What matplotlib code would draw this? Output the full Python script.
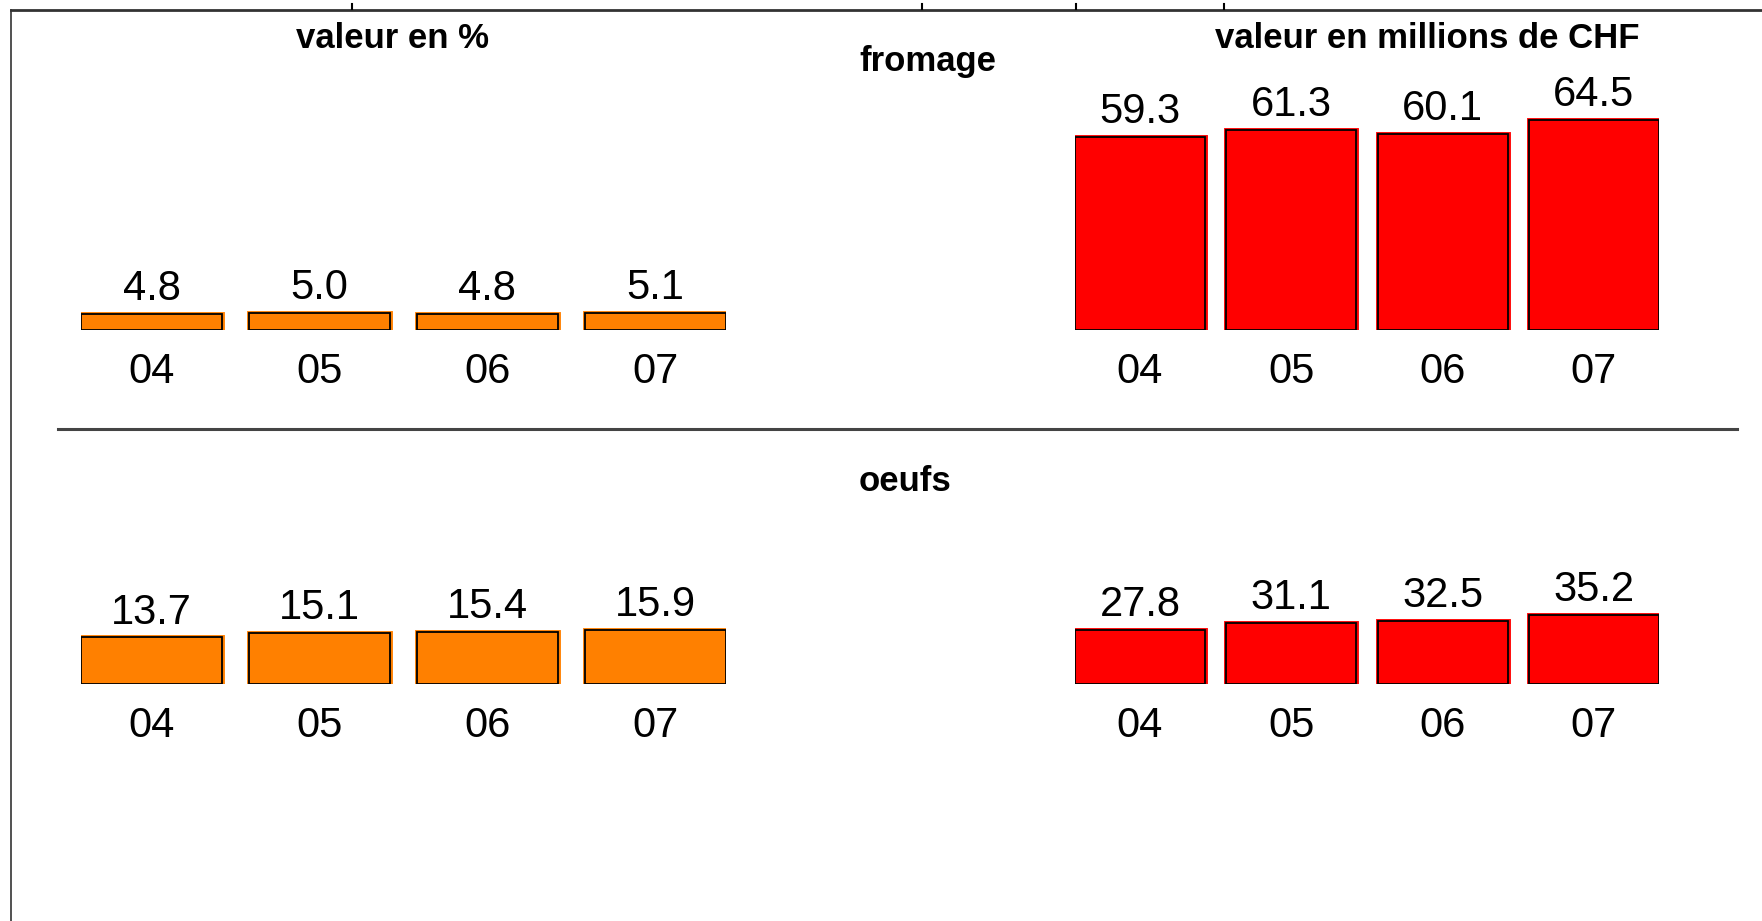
import matplotlib
matplotlib.use('Agg')
import matplotlib.pyplot as plt
from matplotlib.lines import Line2D

# Donnees
annees = ['04', '05', '06', '07']
fromage_pct = [4.8, 5.0, 4.8, 5.1]
fromage_chf = [59.3, 61.3, 60.1, 64.5]
oeufs_pct = [13.7, 15.1, 15.4, 15.9]
oeufs_chf = [27.8, 31.1, 32.5, 35.2]

W, H = 1762, 921
plt.rcParams['font.family'] = ['Liberation Sans', 'DejaVu Sans']

fig = plt.figure(figsize=(W / 100, H / 100), dpi=100)
fig.patch.set_facecolor('white')


def fx(px):
    return px / W


def fy(py):
    return 1 - py / H


def panneau(left, right, bottom, top, valeurs, couleur, px_par_unite, largeur):
    ax = fig.add_axes([fx(left), fy(bottom), fx(right) - fx(left), (bottom - top) / H])
    x = range(len(valeurs))
    # halo de couleur puis contour noir
    ax.bar(x, valeurs, width=largeur, color=couleur, edgecolor=couleur, linewidth=3.5)
    ax.bar(x, valeurs, width=largeur, color=couleur, edgecolor='black', linewidth=1.3)
    for i, v in enumerate(valeurs):
        ax.annotate(f'{v:.1f}', (i, v), xytext=(0, 10), textcoords='offset points',
                    ha='center', va='baseline', fontsize=30, color='black')
    ax.set_xlim(-largeur / 2, len(valeurs) - 1 + largeur / 2)
    ax.set_ylim(0, (bottom - top) / px_par_unite)
    ax.set_xticks(list(x))
    ax.set_xticklabels(annees, fontsize=30)
    ax.tick_params(axis='x', length=0, pad=15.5)
    ax.set_yticks([])
    ax.set_frame_on(False)
    return ax


panneau(81, 726, 330, 80, fromage_pct, '#FF8000', 3.4, 0.843)
panneau(1075, 1659, 330, 80, fromage_chf, '#FF0000', 3.26, 0.86)
panneau(81, 726, 684, 470, oeufs_pct, '#FF8000', 3.4, 0.843)
panneau(1075, 1659, 684, 470, oeufs_chf, '#FF0000', 1.95, 0.86)

# Titres
fig.text(fx(393), fy(38), 'valeur en %', ha='center', va='center', fontsize=25, fontweight='bold')
fig.text(fx(1427), fy(38), 'valeur en millions de CHF', ha='center', va='center', fontsize=25, fontweight='bold')
fig.text(fx(928), fy(62), 'fromage', ha='center', va='center', fontsize=25, fontweight='bold')
fig.text(fx(905), fy(481), 'oeufs', ha='center', va='center', fontsize=25, fontweight='bold')

# Cadre et separateur
fig.add_artist(Line2D([fx(11), 1], [fy(10), fy(10)], color='#333333', linewidth=2))
fig.add_artist(Line2D([fx(11), fx(11)], [fy(10), 0], color='#333333', linewidth=1.2))
fig.add_artist(Line2D([fx(58), fx(1737)], [fy(429), fy(429)], color='#444444', linewidth=2.2))
# restes de texte coupe au-dessus du cadre
for xm in [352, 922, 1076, 1224]:
    fig.add_artist(Line2D([fx(xm), fx(xm)], [fy(9), fy(4)], color='black', linewidth=1.5))

fig.savefig('out.png', dpi=100, facecolor='white')
